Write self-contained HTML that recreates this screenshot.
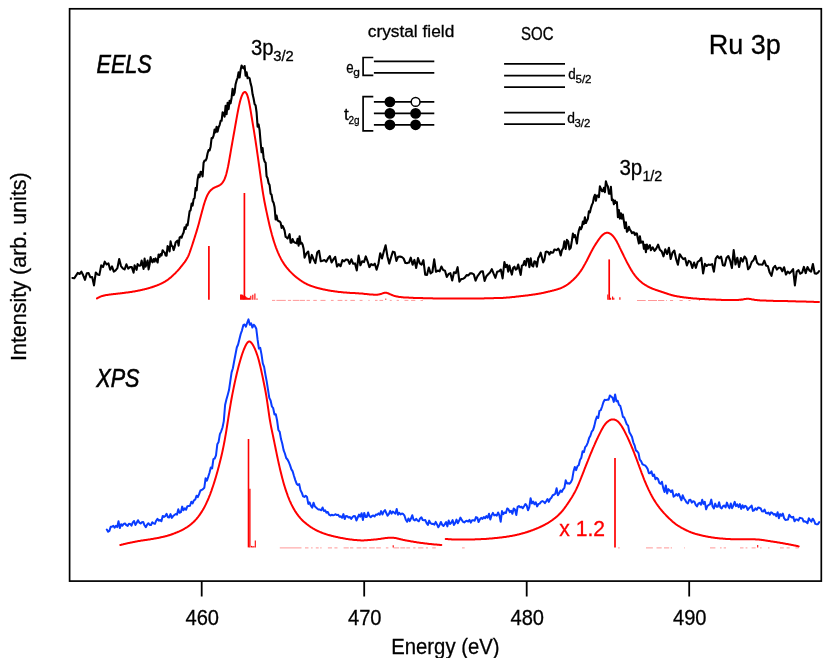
<!DOCTYPE html>
<html>
<head>
<meta charset="utf-8">
<title>Ru 3p EELS / XPS</title>
<style>
  html, body { margin: 0; padding: 0; background: #ffffff; }
  body { width: 831px; height: 658px; overflow: hidden; }
  svg { display: block; }
  text { font-family: "Liberation Sans", sans-serif; fill: #000; stroke: #000; stroke-width: 0.3px; }
  text.b { stroke-width: 0.6px; }
  svg { will-change: transform; }
</style>
</head>
<body>
<svg width="831" height="658" viewBox="0 0 831 658">
  <rect x="0" y="0" width="831" height="658" fill="#ffffff"/>

  <!-- weak multiplet lines -->
  <path d="M272.0 300.4H275.2M276.4 300.4H285.8M287.9 300.4H291.1M292.8 300.4H299.5M300.0 300.4H305.0M306.6 300.4H309.9M313.3 300.4H316.8M320.5 300.4H325.5M330.9 300.4H333.6M337.6 300.4H342.4M344.8 300.4H345.0M345.0 300.4H347.2M350.4 300.4H354.9M359.7 300.4H362.5M368.4 300.4H369.6M375.0 300.4H377.5M379.5 300.4H383.1M389.8 300.4H391.7M396.7 300.4H398.9M404.5 300.4H408.4M411.1 300.4H415.3M420.5 300.4H423.0" stroke="#ff8c8c" stroke-width="0.9" fill="none"/><path d="M637.0 300.5H645.7M648.0 300.5H657.0M658.0 300.5H664.3M666.2 300.5H667.0M670.0 300.5H673.1M679.5 300.5H682.7M688.5 300.5H690.5M698.8 300.5H700.0M740.0 300.5H742.7M754.5 300.5H755.5" stroke="#ff8c8c" stroke-width="0.9" fill="none"/><path d="M279.8 547.9H301.5M305.0 547.9H308.5M311.1 547.9H312.6M315.8 547.9H318.7M320.2 547.9H321.6M327.9 547.9H332.0M334.4 547.9H337.5M343.6 547.9H348.8M350.0 547.9H353.3M356.6 547.9H361.3M362.7 547.9H366.8M369.1 547.9H374.8M376.2 547.9H380.9M385.9 547.9H388.4M393.5 547.9H399.1M400.3 547.9H405.2M406.3 547.9H410.1M413.2 547.9H415.5M418.1 547.9H423.4M425.9 547.9H428.0M432.2 547.9H435.8" stroke="#ff8c8c" stroke-width="0.9" fill="none"/><path d="M462.0 547.9H464.7M618.0 547.9H619.8M646.0 547.9H652.9M656.5 547.9H661.7M664.0 547.9H669.2M670.7 547.9H672.0M684.0 547.9H684.8M710.0 547.9H715.4M720.0 547.9H721.6M723.7 547.9H726.0M740.0 547.9H743.5M745.6 547.9H747.4M751.6 547.9H755.6M760.1 547.9H761.6M768.0 547.9H769.5M780.0 547.9H783.8M786.6 547.9H789.7M795.4 547.9H798.6" stroke="#ff8c8c" stroke-width="0.9" fill="none"/>

  <!-- stick spectra -->
  <line x1="208.9" y1="246.0" x2="208.9" y2="299.8" stroke="#ff0000" stroke-width="1.7"/><line x1="244.4" y1="193.0" x2="244.4" y2="299.8" stroke="#ff0000" stroke-width="1.7"/><line x1="240.6" y1="294.4" x2="240.6" y2="299.8" stroke="#ff0000" stroke-width="1.1"/><line x1="241.6" y1="294.4" x2="241.6" y2="299.8" stroke="#ff0000" stroke-width="1.1"/><line x1="242.6" y1="294.8" x2="242.6" y2="299.8" stroke="#ff0000" stroke-width="1.1"/><line x1="243.4" y1="295.4" x2="243.4" y2="299.8" stroke="#ff0000" stroke-width="1.1"/><line x1="245.6" y1="296.2" x2="245.6" y2="299.8" stroke="#ff0000" stroke-width="1.1"/><line x1="246.6" y1="297.2" x2="246.6" y2="299.8" stroke="#ff0000" stroke-width="1.1"/><line x1="247.6" y1="297.8" x2="247.6" y2="299.8" stroke="#ff0000" stroke-width="1.1"/><line x1="248.6" y1="298.0" x2="248.6" y2="299.8" stroke="#ff0000" stroke-width="1.1"/><line x1="249.6" y1="297.8" x2="249.6" y2="299.8" stroke="#ff0000" stroke-width="1.1"/><line x1="250.8" y1="295.8" x2="250.8" y2="299.8" stroke="#ff0000" stroke-width="1.1"/><line x1="252.8" y1="294.8" x2="252.8" y2="299.8" stroke="#ff0000" stroke-width="1.1"/><line x1="254.9" y1="293.4" x2="254.9" y2="299.8" stroke="#ff0000" stroke-width="1.1"/><line x1="257.0" y1="298.6" x2="257.0" y2="299.8" stroke="#ff0000" stroke-width="1.1"/><line x1="609.2" y1="259.4" x2="609.2" y2="299.8" stroke="#ff0000" stroke-width="1.7"/><line x1="607.8" y1="294.6" x2="607.8" y2="299.8" stroke="#ff0000" stroke-width="1.1"/><line x1="610.6" y1="297.8" x2="610.6" y2="299.8" stroke="#ff0000" stroke-width="1.1"/><line x1="612.6" y1="296.4" x2="612.6" y2="299.8" stroke="#ff0000" stroke-width="1.1"/><line x1="613.8" y1="297.8" x2="613.8" y2="299.8" stroke="#ff0000" stroke-width="1.1"/><line x1="619.9" y1="297.2" x2="619.9" y2="299.8" stroke="#ff0000" stroke-width="1.1"/><line x1="248.5" y1="439.0" x2="248.5" y2="547.4" stroke="#ff0000" stroke-width="1.6"/><line x1="249.9" y1="488.7" x2="249.9" y2="547.4" stroke="#ff0000" stroke-width="1.3"/><line x1="255.3" y1="540.6" x2="255.3" y2="547.4" stroke="#ff0000" stroke-width="1.1"/><line x1="251.5" y1="545.9" x2="251.5" y2="547.4" stroke="#ff0000" stroke-width="1.1"/><line x1="252.7" y1="546.2" x2="252.7" y2="547.4" stroke="#ff0000" stroke-width="1.1"/><line x1="253.9" y1="545.9" x2="253.9" y2="547.4" stroke="#ff0000" stroke-width="1.1"/><line x1="615.0" y1="458.0" x2="615.0" y2="547.4" stroke="#ff0000" stroke-width="1.7"/><line x1="393.2" y1="545.2" x2="393.2" y2="547.4" stroke="#ff0000" stroke-width="1.1"/><line x1="757.7" y1="545.0" x2="757.7" y2="547.4" stroke="#ff0000" stroke-width="1.1"/><line x1="385.8" y1="298.6" x2="385.8" y2="299.8" stroke="#ff0000" stroke-width="1.0"/>

  <!-- simulated (red) spectra -->
  <g fill="none" stroke="#ff0000" stroke-width="2.0" stroke-linejoin="round" stroke-linecap="round">
    <path d="M97.0 298.4L97.5 298.1L98.0 297.8L98.5 297.6L99.0 297.3L99.5 297.1L100.0 296.8L100.5 296.6L101.0 296.4L101.5 296.2L102.0 296.1L102.5 295.9L103.0 295.8L103.5 295.7L104.0 295.5L104.5 295.4L105.0 295.3L105.5 295.2L106.0 295.1L106.5 295.1L107.0 295.0L107.5 294.9L108.0 294.8L108.5 294.7L109.0 294.7L109.5 294.6L110.0 294.5L110.5 294.5L111.0 294.4L111.5 294.3L112.0 294.3L112.5 294.2L113.0 294.2L113.5 294.1L114.0 294.1L114.5 294.0L115.0 294.0L115.5 293.9L116.0 293.8L116.5 293.8L117.0 293.7L117.5 293.7L118.0 293.6L118.5 293.6L119.0 293.5L119.5 293.5L120.0 293.4L120.5 293.3L121.0 293.3L121.5 293.2L122.0 293.2L122.5 293.1L123.0 293.0L123.5 293.0L124.0 292.9L124.5 292.8L125.0 292.8L125.5 292.7L126.0 292.6L126.5 292.6L127.0 292.5L127.5 292.5L128.0 292.4L128.5 292.3L129.0 292.2L129.5 292.2L130.0 292.1L130.5 292.0L131.0 291.9L131.5 291.9L132.0 291.8L132.5 291.7L133.0 291.6L133.5 291.5L134.0 291.5L134.5 291.4L135.0 291.3L135.5 291.2L136.0 291.1L136.5 291.0L137.0 290.9L137.5 290.8L138.0 290.7L138.5 290.6L139.0 290.5L139.5 290.4L140.0 290.3L140.5 290.2L141.0 290.1L141.5 290.0L142.0 289.9L142.5 289.7L143.0 289.6L143.5 289.5L144.0 289.4L144.5 289.3L145.0 289.1L145.5 289.0L146.0 288.9L146.5 288.8L147.0 288.6L147.5 288.5L148.0 288.4L148.5 288.2L149.0 288.1L149.5 287.9L150.0 287.8L150.5 287.6L151.0 287.5L151.5 287.3L152.0 287.2L152.5 287.0L153.0 286.8L153.5 286.7L154.0 286.5L154.5 286.3L155.0 286.1L155.5 286.0L156.0 285.8L156.5 285.6L157.0 285.4L157.5 285.2L158.0 285.0L158.5 284.8L159.0 284.6L159.5 284.4L160.0 284.1L160.5 283.9L161.0 283.7L161.5 283.4L162.0 283.2L162.5 282.9L163.0 282.7L163.5 282.4L164.0 282.1L164.5 281.8L165.0 281.6L165.5 281.3L166.0 280.9L166.5 280.6L167.0 280.3L167.5 279.9L168.0 279.6L168.5 279.2L169.0 278.8L169.5 278.4L170.0 278.0L170.5 277.6L171.0 277.2L171.5 276.7L172.0 276.3L172.5 275.8L173.0 275.4L173.5 274.9L174.0 274.4L174.5 273.9L175.0 273.5L175.5 273.0L176.0 272.4L176.5 271.9L177.0 271.4L177.5 270.9L178.0 270.3L178.5 269.7L179.0 269.2L179.5 268.6L180.0 268.0L180.5 267.4L181.0 266.7L181.5 266.1L182.0 265.5L182.5 264.9L183.0 264.2L183.5 263.6L184.0 262.9L184.5 262.3L185.0 261.6L185.5 260.9L186.0 260.1L186.5 259.3L187.0 258.5L187.5 257.6L188.0 256.6L188.5 255.5L189.0 254.3L189.5 253.0L190.0 251.6L190.5 250.2L191.0 248.7L191.5 247.2L192.0 245.7L192.5 244.2L193.0 242.6L193.5 241.1L194.0 239.5L194.5 238.0L195.0 236.4L195.5 234.8L196.0 233.2L196.5 231.6L197.0 229.9L197.5 228.2L198.0 226.5L198.5 224.7L199.0 222.9L199.5 221.0L200.0 219.1L200.5 217.2L201.0 215.3L201.5 213.4L202.0 211.5L202.5 209.7L203.0 207.9L203.5 206.1L204.0 204.4L204.5 202.8L205.0 201.2L205.5 199.8L206.0 198.4L206.5 197.1L207.0 196.0L207.5 194.9L208.0 194.0L208.5 193.2L209.0 192.4L209.5 191.7L210.0 191.1L210.5 190.5L211.0 190.0L211.5 189.6L212.0 189.2L212.5 188.8L213.0 188.4L213.5 188.1L214.0 187.8L214.5 187.6L215.0 187.3L215.5 187.1L216.0 186.9L216.5 186.7L217.0 186.5L217.5 186.3L218.0 186.1L218.5 185.8L219.0 185.6L219.5 185.3L220.0 185.0L220.5 184.6L221.0 184.2L221.5 183.7L222.0 183.2L222.5 182.6L223.0 181.9L223.5 181.1L224.0 180.2L224.5 179.2L225.0 178.0L225.5 176.6L226.0 175.1L226.5 173.3L227.0 171.3L227.5 169.1L228.0 166.8L228.5 164.2L229.0 161.5L229.5 158.6L230.0 155.8L230.5 152.8L231.0 149.9L231.5 147.0L232.0 144.2L232.5 141.4L233.0 138.6L233.5 135.8L234.0 133.0L234.5 130.2L235.0 127.3L235.5 124.5L236.0 121.7L236.5 118.9L237.0 116.1L237.5 113.4L238.0 110.8L238.5 108.3L239.0 105.9L239.5 103.7L240.0 101.6L240.5 99.8L241.0 98.1L241.5 96.7L242.0 95.4L242.5 94.3L243.0 93.4L243.5 92.7L244.0 92.3L244.5 92.0L245.0 92.0L245.5 92.2L246.0 92.7L246.5 93.5L247.0 94.5L247.5 95.9L248.0 97.5L248.5 99.5L249.0 101.8L249.5 104.3L250.0 107.0L250.5 109.9L251.0 112.9L251.5 116.0L252.0 119.0L252.5 122.1L253.0 125.1L253.5 128.2L254.0 131.2L254.5 134.3L255.0 137.5L255.5 140.7L256.0 144.0L256.5 147.4L257.0 150.8L257.5 154.3L258.0 157.8L258.5 161.4L259.0 165.0L259.5 168.6L260.0 172.3L260.5 175.9L261.0 179.6L261.5 183.1L262.0 186.6L262.5 190.0L263.0 193.2L263.5 196.2L264.0 199.0L264.5 201.7L265.0 204.3L265.5 206.8L266.0 209.2L266.5 211.6L267.0 213.9L267.5 216.3L268.0 218.5L268.5 220.8L269.0 223.0L269.5 225.2L270.0 227.3L270.5 229.3L271.0 231.2L271.5 233.1L272.0 235.0L272.5 236.7L273.0 238.4L273.5 240.1L274.0 241.7L274.5 243.3L275.0 244.8L275.5 246.2L276.0 247.6L276.5 248.9L277.0 250.2L277.5 251.4L278.0 252.6L278.5 253.7L279.0 254.8L279.5 255.9L280.0 256.9L280.5 257.9L281.0 258.9L281.5 259.8L282.0 260.7L282.5 261.5L283.0 262.3L283.5 263.1L284.0 263.9L284.5 264.6L285.0 265.3L285.5 266.0L286.0 266.6L286.5 267.3L287.0 267.9L287.5 268.5L288.0 269.1L288.5 269.7L289.0 270.3L289.5 270.8L290.0 271.4L290.5 271.9L291.0 272.4L291.5 272.9L292.0 273.4L292.5 273.9L293.0 274.4L293.5 274.8L294.0 275.3L294.5 275.7L295.0 276.1L295.5 276.6L296.0 277.0L296.5 277.4L297.0 277.8L297.5 278.2L298.0 278.5L298.5 278.9L299.0 279.3L299.5 279.7L300.0 280.0L300.5 280.4L301.0 280.7L301.5 281.0L302.0 281.4L302.5 281.7L303.0 282.0L303.5 282.3L304.0 282.6L304.5 282.9L305.0 283.2L305.5 283.4L306.0 283.7L306.5 284.0L307.0 284.2L307.5 284.4L308.0 284.7L308.5 284.9L309.0 285.1L309.5 285.3L310.0 285.5L310.5 285.7L311.0 285.9L311.5 286.1L312.0 286.2L312.5 286.4L313.0 286.6L313.5 286.7L314.0 286.9L314.5 287.1L315.0 287.2L315.5 287.4L316.0 287.5L316.5 287.7L317.0 287.8L317.5 287.9L318.0 288.1L318.5 288.2L319.0 288.3L319.5 288.5L320.0 288.6L320.5 288.7L321.0 288.8L321.5 289.0L322.0 289.1L322.5 289.2L323.0 289.3L323.5 289.4L324.0 289.5L324.5 289.6L325.0 289.7L325.5 289.8L326.0 289.9L326.5 290.0L327.0 290.1L327.5 290.2L328.0 290.3L328.5 290.4L329.0 290.5L329.5 290.6L330.0 290.7L330.5 290.8L331.0 290.8L331.5 290.9L332.0 291.0L332.5 291.1L333.0 291.1L333.5 291.2L334.0 291.3L334.5 291.3L335.0 291.4L335.5 291.5L336.0 291.5L336.5 291.6L337.0 291.7L337.5 291.7L338.0 291.8L338.5 291.9L339.0 291.9L339.5 292.0L340.0 292.0L340.5 292.1L341.0 292.1L341.5 292.2L342.0 292.2L342.5 292.3L343.0 292.3L343.5 292.4L344.0 292.4L344.5 292.5L345.0 292.5L345.5 292.6L346.0 292.6L346.5 292.6L347.0 292.7L347.5 292.7L348.0 292.7L348.5 292.8L349.0 292.8L349.5 292.8L350.0 292.9L350.5 292.9L351.0 292.9L351.5 292.9L352.0 293.0L352.5 293.0L353.0 293.0L353.5 293.1L354.0 293.1L354.5 293.1L355.0 293.1L355.5 293.2L356.0 293.2L356.5 293.2L357.0 293.2L357.5 293.3L358.0 293.3L358.5 293.3L359.0 293.4L359.5 293.4L360.0 293.4L360.5 293.5L361.0 293.5L361.5 293.6L362.0 293.6L362.5 293.6L363.0 293.7L363.5 293.7L364.0 293.8L364.5 293.9L365.0 293.9L365.5 294.0L366.0 294.0L366.5 294.1L367.0 294.1L367.5 294.2L368.0 294.2L368.5 294.3L369.0 294.3L369.5 294.4L370.0 294.4L370.5 294.5L371.0 294.5L371.5 294.6L372.0 294.6L372.5 294.6L373.0 294.6L373.5 294.7L374.0 294.7L374.5 294.7L375.0 294.7L375.5 294.7L376.0 294.7L376.5 294.7L377.0 294.7L377.5 294.7L378.0 294.6L378.5 294.5L379.0 294.4L379.5 294.3L380.0 294.2L380.5 294.1L381.0 293.9L381.5 293.8L382.0 293.6L382.5 293.4L383.0 293.2L383.5 293.1L384.0 292.9L384.5 292.8L385.0 292.7L385.5 292.7L386.0 292.7L386.5 292.8L387.0 292.9L387.5 293.1L388.0 293.3L388.5 293.5L389.0 293.7L389.5 293.9L390.0 294.2L390.5 294.4L391.0 294.6L391.5 294.8L392.0 295.0L392.5 295.2L393.0 295.4L393.5 295.6L394.0 295.8L394.5 295.9L395.0 296.1L395.5 296.2L396.0 296.3L396.5 296.4L397.0 296.5L397.5 296.6L398.0 296.7L398.5 296.8L399.0 296.9L399.5 296.9L400.0 297.0L400.5 297.1L401.0 297.1L401.5 297.2L402.0 297.2L402.5 297.3L403.0 297.3L403.5 297.4L404.0 297.4L404.5 297.4L405.0 297.5L405.5 297.5L406.0 297.5L406.5 297.5L407.0 297.6L407.5 297.6L408.0 297.6L408.5 297.6L409.0 297.7L409.5 297.7L410.0 297.7L410.5 297.7L411.0 297.8L411.5 297.8L412.0 297.8L412.5 297.8L413.0 297.8L413.5 297.9L414.0 297.9L414.5 297.9L415.0 297.9L415.5 297.9L416.0 298.0L416.5 298.0L417.0 298.0L417.5 298.0L418.0 298.0L418.5 298.0L419.0 298.1L419.5 298.1L420.0 298.1L420.5 298.1L421.0 298.1L421.5 298.1L422.0 298.1L422.5 298.1L423.0 298.2L423.5 298.2L424.0 298.2L424.5 298.2L425.0 298.2L425.5 298.2L426.0 298.2L426.5 298.2L427.0 298.2L427.5 298.3L428.0 298.3L428.5 298.3L429.0 298.3L429.5 298.3L430.0 298.3L430.5 298.3L431.0 298.3L431.5 298.3L432.0 298.3L432.5 298.3L433.0 298.4L433.5 298.4L434.0 298.4L434.5 298.4L435.0 298.4L435.5 298.4L436.0 298.4L436.5 298.4L437.0 298.4L437.5 298.4L438.0 298.4L438.5 298.4L439.0 298.4L439.5 298.5L440.0 298.5L440.5 298.5L441.0 298.5L441.5 298.5L442.0 298.5L442.5 298.5L443.0 298.5L443.5 298.5L444.0 298.5L444.5 298.5L445.0 298.5L445.5 298.5L446.0 298.5L446.5 298.5L447.0 298.5L447.5 298.6L448.0 298.6L448.5 298.6L449.0 298.6L449.5 298.6L450.0 298.6L450.5 298.6L451.0 298.6L451.5 298.6L452.0 298.6L452.5 298.6L453.0 298.6L453.5 298.6L454.0 298.6L454.5 298.6L455.0 298.6L455.5 298.6L456.0 298.6L456.5 298.6L457.0 298.6L457.5 298.6L458.0 298.6L458.5 298.6L459.0 298.6L459.5 298.6L460.0 298.6L460.5 298.6L461.0 298.6L461.5 298.6L462.0 298.6L462.5 298.6L463.0 298.6L463.5 298.6L464.0 298.6L464.5 298.6L465.0 298.6L465.5 298.6L466.0 298.6L466.5 298.6L467.0 298.6L467.5 298.6L468.0 298.6L468.5 298.6L469.0 298.5L469.5 298.5L470.0 298.5L470.5 298.5L471.0 298.5L471.5 298.5L472.0 298.5L472.5 298.5L473.0 298.5L473.5 298.5L474.0 298.5L474.5 298.5L475.0 298.5L475.5 298.5L476.0 298.5L476.5 298.5L477.0 298.5L477.5 298.5L478.0 298.4L478.5 298.4L479.0 298.4L479.5 298.4L480.0 298.4L480.5 298.4L481.0 298.4L481.5 298.4L482.0 298.4L482.5 298.4L483.0 298.4L483.5 298.4L484.0 298.4L484.5 298.3L485.0 298.3L485.5 298.3L486.0 298.3L486.5 298.3L487.0 298.3L487.5 298.3L488.0 298.3L488.5 298.3L489.0 298.3L489.5 298.2L490.0 298.2L490.5 298.2L491.0 298.2L491.5 298.2L492.0 298.2L492.5 298.2L493.0 298.2L493.5 298.2L494.0 298.1L494.5 298.1L495.0 298.1L495.5 298.1L496.0 298.1L496.5 298.1L497.0 298.1L497.5 298.1L498.0 298.1L498.5 298.0L499.0 298.0L499.5 298.0L500.0 298.0L500.5 298.0L501.0 298.0L501.5 297.9L502.0 297.9L502.5 297.9L503.0 297.9L503.5 297.8L504.0 297.8L504.5 297.8L505.0 297.7L505.5 297.7L506.0 297.7L506.5 297.6L507.0 297.6L507.5 297.6L508.0 297.5L508.5 297.5L509.0 297.4L509.5 297.4L510.0 297.3L510.5 297.3L511.0 297.2L511.5 297.2L512.0 297.1L512.5 297.1L513.0 297.0L513.5 297.0L514.0 296.9L514.5 296.9L515.0 296.8L515.5 296.7L516.0 296.7L516.5 296.6L517.0 296.6L517.5 296.5L518.0 296.5L518.5 296.4L519.0 296.3L519.5 296.3L520.0 296.2L520.5 296.2L521.0 296.1L521.5 296.1L522.0 296.0L522.5 295.9L523.0 295.9L523.5 295.8L524.0 295.8L524.5 295.7L525.0 295.7L525.5 295.6L526.0 295.5L526.5 295.5L527.0 295.4L527.5 295.4L528.0 295.3L528.5 295.2L529.0 295.2L529.5 295.1L530.0 295.0L530.5 295.0L531.0 294.9L531.5 294.8L532.0 294.8L532.5 294.7L533.0 294.6L533.5 294.5L534.0 294.5L534.5 294.4L535.0 294.3L535.5 294.2L536.0 294.2L536.5 294.1L537.0 294.0L537.5 293.9L538.0 293.8L538.5 293.8L539.0 293.7L539.5 293.6L540.0 293.5L540.5 293.4L541.0 293.3L541.5 293.2L542.0 293.1L542.5 293.0L543.0 292.9L543.5 292.8L544.0 292.7L544.5 292.6L545.0 292.5L545.5 292.3L546.0 292.2L546.5 292.1L547.0 292.0L547.5 291.9L548.0 291.7L548.5 291.6L549.0 291.5L549.5 291.4L550.0 291.3L550.5 291.1L551.0 291.0L551.5 290.9L552.0 290.8L552.5 290.6L553.0 290.5L553.5 290.4L554.0 290.3L554.5 290.1L555.0 290.0L555.5 289.9L556.0 289.7L556.5 289.6L557.0 289.4L557.5 289.3L558.0 289.1L558.5 289.0L559.0 288.8L559.5 288.6L560.0 288.4L560.5 288.3L561.0 288.1L561.5 287.8L562.0 287.6L562.5 287.4L563.0 287.1L563.5 286.9L564.0 286.6L564.5 286.3L565.0 286.1L565.5 285.8L566.0 285.5L566.5 285.1L567.0 284.8L567.5 284.5L568.0 284.1L568.5 283.8L569.0 283.4L569.5 283.0L570.0 282.6L570.5 282.2L571.0 281.8L571.5 281.3L572.0 280.9L572.5 280.4L573.0 280.0L573.5 279.5L574.0 279.0L574.5 278.5L575.0 278.0L575.5 277.5L576.0 277.0L576.5 276.4L577.0 275.8L577.5 275.3L578.0 274.7L578.5 274.0L579.0 273.4L579.5 272.7L580.0 272.0L580.5 271.3L581.0 270.6L581.5 269.8L582.0 269.1L582.5 268.3L583.0 267.4L583.5 266.6L584.0 265.7L584.5 264.8L585.0 264.0L585.5 263.1L586.0 262.1L586.5 261.2L587.0 260.2L587.5 259.2L588.0 258.2L588.5 257.2L589.0 256.2L589.5 255.2L590.0 254.2L590.5 253.2L591.0 252.3L591.5 251.3L592.0 250.4L592.5 249.5L593.0 248.6L593.5 247.7L594.0 246.8L594.5 246.0L595.0 245.2L595.5 244.4L596.0 243.6L596.5 242.8L597.0 242.1L597.5 241.3L598.0 240.6L598.5 239.9L599.0 239.2L599.5 238.5L600.0 237.8L600.5 237.2L601.0 236.6L601.5 236.0L602.0 235.5L602.5 235.0L603.0 234.6L603.5 234.2L604.0 233.8L604.5 233.5L605.0 233.3L605.5 233.1L606.0 232.9L606.5 232.8L607.0 232.7L607.5 232.7L608.0 232.8L608.5 232.9L609.0 233.1L609.5 233.3L610.0 233.6L610.5 233.9L611.0 234.2L611.5 234.6L612.0 235.1L612.5 235.5L613.0 236.1L613.5 236.7L614.0 237.3L614.5 238.0L615.0 238.7L615.5 239.5L616.0 240.3L616.5 241.1L617.0 242.0L617.5 243.0L618.0 243.9L618.5 244.9L619.0 246.0L619.5 247.0L620.0 248.1L620.5 249.1L621.0 250.2L621.5 251.2L622.0 252.3L622.5 253.3L623.0 254.3L623.5 255.3L624.0 256.4L624.5 257.4L625.0 258.4L625.5 259.4L626.0 260.4L626.5 261.4L627.0 262.3L627.5 263.3L628.0 264.2L628.5 265.1L629.0 266.0L629.5 266.9L630.0 267.8L630.5 268.7L631.0 269.6L631.5 270.4L632.0 271.2L632.5 272.0L633.0 272.8L633.5 273.5L634.0 274.2L634.5 274.9L635.0 275.6L635.5 276.2L636.0 276.8L636.5 277.4L637.0 278.0L637.5 278.5L638.0 279.0L638.5 279.6L639.0 280.1L639.5 280.5L640.0 281.0L640.5 281.4L641.0 281.9L641.5 282.3L642.0 282.7L642.5 283.1L643.0 283.5L643.5 283.8L644.0 284.2L644.5 284.5L645.0 284.8L645.5 285.1L646.0 285.4L646.5 285.7L647.0 286.0L647.5 286.3L648.0 286.6L648.5 286.8L649.0 287.1L649.5 287.3L650.0 287.6L650.5 287.8L651.0 288.0L651.5 288.2L652.0 288.5L652.5 288.7L653.0 288.9L653.5 289.1L654.0 289.2L654.5 289.4L655.0 289.6L655.5 289.8L656.0 290.0L656.5 290.1L657.0 290.3L657.5 290.5L658.0 290.6L658.5 290.8L659.0 291.0L659.5 291.1L660.0 291.3L660.5 291.5L661.0 291.6L661.5 291.8L662.0 292.0L662.5 292.1L663.0 292.3L663.5 292.5L664.0 292.6L664.5 292.8L665.0 293.0L665.5 293.1L666.0 293.3L666.5 293.5L667.0 293.6L667.5 293.8L668.0 294.0L668.5 294.1L669.0 294.3L669.5 294.4L670.0 294.6L670.5 294.7L671.0 294.9L671.5 295.0L672.0 295.2L672.5 295.3L673.0 295.4L673.5 295.5L674.0 295.7L674.5 295.8L675.0 295.9L675.5 296.0L676.0 296.1L676.5 296.2L677.0 296.3L677.5 296.4L678.0 296.5L678.5 296.6L679.0 296.6L679.5 296.7L680.0 296.8L680.5 296.9L681.0 296.9L681.5 297.0L682.0 297.1L682.5 297.2L683.0 297.2L683.5 297.3L684.0 297.4L684.5 297.4L685.0 297.5L685.5 297.5L686.0 297.6L686.5 297.7L687.0 297.7L687.5 297.8L688.0 297.8L688.5 297.9L689.0 298.0L689.5 298.0L690.0 298.1L690.5 298.1L691.0 298.2L691.5 298.2L692.0 298.3L692.5 298.3L693.0 298.4L693.5 298.4L694.0 298.4L694.5 298.5L695.0 298.5L695.5 298.6L696.0 298.6L696.5 298.6L697.0 298.7L697.5 298.7L698.0 298.8L698.5 298.8L699.0 298.8L699.5 298.9L700.0 298.9L700.5 298.9L701.0 298.9L701.5 299.0L702.0 299.0L702.5 299.0L703.0 299.1L703.5 299.1L704.0 299.1L704.5 299.1L705.0 299.2L705.5 299.2L706.0 299.2L706.5 299.2L707.0 299.3L707.5 299.3L708.0 299.3L708.5 299.3L709.0 299.4L709.5 299.4L710.0 299.4L710.5 299.4L711.0 299.4L711.5 299.5L712.0 299.5L712.5 299.5L713.0 299.5L713.5 299.6L714.0 299.6L714.5 299.6L715.0 299.6L715.5 299.6L716.0 299.7L716.5 299.7L717.0 299.7L717.5 299.7L718.0 299.7L718.5 299.8L719.0 299.8L719.5 299.8L720.0 299.8L720.5 299.8L721.0 299.8L721.5 299.9L722.0 299.9L722.5 299.9L723.0 299.9L723.5 299.9L724.0 299.9L724.5 300.0L725.0 300.0L725.5 300.0L726.0 300.0L726.5 300.0L727.0 300.0L727.5 300.0L728.0 300.0L728.5 300.0L729.0 300.0L729.5 300.1L730.0 300.1L730.5 300.1L731.0 300.1L731.5 300.1L732.0 300.1L732.5 300.1L733.0 300.1L733.5 300.1L734.0 300.1L734.5 300.1L735.0 300.1L735.5 300.1L736.0 300.1L736.5 300.0L737.0 300.0L737.5 300.0L738.0 299.9L738.5 299.9L739.0 299.8L739.5 299.8L740.0 299.7L740.5 299.7L741.0 299.6L741.5 299.6L742.0 299.5L742.5 299.4L743.0 299.4L743.5 299.3L744.0 299.2L744.5 299.1L745.0 299.0L745.5 299.0L746.0 298.9L746.5 298.8L747.0 298.8L747.5 298.8L748.0 298.7L748.5 298.8L749.0 298.8L749.5 298.9L750.0 299.0L750.5 299.0L751.0 299.1L751.5 299.3L752.0 299.4L752.5 299.5L753.0 299.6L753.5 299.6L754.0 299.7L754.5 299.8L755.0 299.9L755.5 299.9L756.0 300.0L756.5 300.1L757.0 300.1L757.5 300.2L758.0 300.2L758.5 300.3L759.0 300.3L759.5 300.3L760.0 300.4L760.5 300.4L761.0 300.4L761.5 300.5L762.0 300.5L762.5 300.5L763.0 300.5L763.5 300.6L764.0 300.6L764.5 300.6L765.0 300.6L765.5 300.6L766.0 300.6L766.5 300.7L767.0 300.7L767.5 300.7L768.0 300.7L768.5 300.7L769.0 300.7L769.5 300.8L770.0 300.8L770.5 300.8L771.0 300.8L771.5 300.8L772.0 300.8L772.5 300.8L773.0 300.8L773.5 300.9L774.0 300.9L774.5 300.9L775.0 300.9L775.5 300.9L776.0 300.9L776.5 300.9L777.0 300.9L777.5 300.9L778.0 300.9L778.5 301.0L779.0 301.0L779.5 301.0L780.0 301.0L780.5 301.0L781.0 301.0L781.5 301.0L782.0 301.0L782.5 301.0L783.0 301.0L783.5 301.1L784.0 301.1L784.5 301.1L785.0 301.1L785.5 301.1L786.0 301.1L786.5 301.1L787.0 301.1L787.5 301.1L788.0 301.2L788.5 301.2L789.0 301.2L789.5 301.2L790.0 301.2L790.5 301.2L791.0 301.2L791.5 301.2L792.0 301.3L792.5 301.3L793.0 301.3L793.5 301.3L794.0 301.3L794.5 301.3L795.0 301.3L795.5 301.3L796.0 301.4L796.5 301.4L797.0 301.4L797.5 301.4L798.0 301.4L798.5 301.4L799.0 301.4L799.5 301.5L800.0 301.5L800.5 301.5L801.0 301.5L801.5 301.5L802.0 301.5L802.5 301.5L803.0 301.6L803.5 301.6L804.0 301.6L804.5 301.6L805.0 301.6L805.5 301.6L806.0 301.6L806.5 301.7L807.0 301.7L807.5 301.7L808.0 301.7L808.5 301.7L809.0 301.7L809.5 301.7L810.0 301.7L810.5 301.8L811.0 301.8L811.5 301.8L812.0 301.8L812.5 301.8L813.0 301.8L813.5 301.8L814.0 301.9L814.5 301.9L815.0 301.9L815.5 301.9L816.0 301.9L816.5 301.9L817.0 301.9L817.5 302.0L818.0 302.0L818.5 302.0L819.0 302.0"/>
    <path d="M120.3 545.0L120.8 544.9L121.3 544.8L121.8 544.6L122.3 544.5L122.8 544.4L123.3 544.3L123.8 544.1L124.3 544.0L124.8 543.9L125.3 543.8L125.8 543.7L126.3 543.6L126.8 543.4L127.3 543.3L127.8 543.2L128.3 543.1L128.8 543.0L129.3 542.9L129.8 542.8L130.3 542.7L130.8 542.6L131.3 542.5L131.8 542.4L132.3 542.3L132.8 542.2L133.3 542.1L133.8 542.0L134.3 541.9L134.8 541.8L135.3 541.7L135.8 541.6L136.3 541.5L136.8 541.4L137.3 541.3L137.8 541.2L138.3 541.1L138.8 541.0L139.3 540.9L139.8 540.9L140.3 540.8L140.8 540.7L141.3 540.6L141.8 540.5L142.3 540.5L142.8 540.4L143.3 540.3L143.8 540.2L144.3 540.2L144.8 540.1L145.3 540.0L145.8 540.0L146.3 539.9L146.8 539.8L147.3 539.8L147.8 539.7L148.3 539.6L148.8 539.5L149.3 539.5L149.8 539.4L150.3 539.3L150.8 539.2L151.3 539.1L151.8 539.1L152.3 539.0L152.8 538.9L153.3 538.8L153.8 538.7L154.3 538.6L154.8 538.5L155.3 538.4L155.8 538.3L156.3 538.3L156.8 538.2L157.3 538.1L157.8 538.0L158.3 537.9L158.8 537.8L159.3 537.7L159.8 537.6L160.3 537.5L160.8 537.3L161.3 537.2L161.8 537.1L162.3 537.0L162.8 536.9L163.3 536.8L163.8 536.7L164.3 536.5L164.8 536.4L165.3 536.3L165.8 536.2L166.3 536.0L166.8 535.9L167.3 535.8L167.8 535.6L168.3 535.5L168.8 535.3L169.3 535.2L169.8 535.0L170.3 534.9L170.8 534.7L171.3 534.5L171.8 534.3L172.3 534.2L172.8 534.0L173.3 533.8L173.8 533.6L174.3 533.4L174.8 533.2L175.3 533.0L175.8 532.8L176.3 532.6L176.8 532.4L177.3 532.2L177.8 532.0L178.3 531.8L178.8 531.6L179.3 531.4L179.8 531.1L180.3 530.9L180.8 530.7L181.3 530.4L181.8 530.2L182.3 529.9L182.8 529.7L183.3 529.4L183.8 529.1L184.3 528.8L184.8 528.5L185.3 528.2L185.8 527.9L186.3 527.6L186.8 527.3L187.3 527.0L187.8 526.6L188.3 526.3L188.8 525.9L189.3 525.6L189.8 525.2L190.3 524.8L190.8 524.4L191.3 524.0L191.8 523.5L192.3 523.1L192.8 522.6L193.3 522.2L193.8 521.7L194.3 521.2L194.8 520.7L195.3 520.2L195.8 519.6L196.3 519.1L196.8 518.5L197.3 517.9L197.8 517.3L198.3 516.7L198.8 516.0L199.3 515.3L199.8 514.6L200.3 513.9L200.8 513.2L201.3 512.4L201.8 511.6L202.3 510.8L202.8 510.0L203.3 509.1L203.8 508.3L204.3 507.3L204.8 506.4L205.3 505.4L205.8 504.4L206.3 503.3L206.8 502.2L207.3 501.1L207.8 500.0L208.3 498.8L208.8 497.6L209.3 496.3L209.8 495.1L210.3 493.8L210.8 492.4L211.3 491.1L211.8 489.6L212.3 488.2L212.8 486.7L213.3 485.2L213.8 483.7L214.3 482.1L214.8 480.5L215.3 478.9L215.8 477.2L216.3 475.5L216.8 473.8L217.3 472.0L217.8 470.2L218.3 468.3L218.8 466.5L219.3 464.6L219.8 462.6L220.3 460.6L220.8 458.6L221.3 456.5L221.8 454.3L222.3 452.1L222.8 449.8L223.3 447.4L223.8 444.9L224.3 442.3L224.8 439.6L225.3 436.7L225.8 433.8L226.3 430.8L226.8 427.7L227.3 424.5L227.8 421.3L228.3 418.1L228.8 415.0L229.3 411.8L229.8 408.8L230.3 405.8L230.8 402.9L231.3 400.0L231.8 397.3L232.3 394.6L232.8 392.1L233.3 389.6L233.8 387.1L234.3 384.8L234.8 382.4L235.3 380.1L235.8 377.9L236.3 375.7L236.8 373.6L237.3 371.5L237.8 369.5L238.3 367.5L238.8 365.6L239.3 363.7L239.8 361.9L240.3 360.2L240.8 358.5L241.3 356.9L241.8 355.3L242.3 353.8L242.8 352.4L243.3 351.0L243.8 349.7L244.3 348.5L244.8 347.3L245.3 346.2L245.8 345.2L246.3 344.3L246.8 343.5L247.3 342.8L247.8 342.3L248.3 341.9L248.8 341.6L249.3 341.5L249.8 341.6L250.3 341.8L250.8 342.2L251.3 342.7L251.8 343.3L252.3 344.0L252.8 344.8L253.3 345.6L253.8 346.6L254.3 347.6L254.8 348.7L255.3 349.9L255.8 351.1L256.3 352.4L256.8 353.8L257.3 355.3L257.8 356.8L258.3 358.5L258.8 360.3L259.3 362.2L259.8 364.2L260.3 366.3L260.8 368.5L261.3 370.7L261.8 373.1L262.3 375.4L262.8 377.8L263.3 380.3L263.8 382.7L264.3 385.2L264.8 387.7L265.3 390.3L265.8 393.0L266.3 395.9L266.8 399.0L267.3 402.4L267.8 405.9L268.3 409.4L268.8 412.9L269.3 416.3L269.8 419.5L270.3 422.4L270.8 425.1L271.3 427.7L271.8 430.1L272.3 432.5L272.8 434.9L273.3 437.3L273.8 439.7L274.3 442.1L274.8 444.6L275.3 447.0L275.8 449.5L276.3 451.9L276.8 454.4L277.3 456.7L277.8 459.1L278.3 461.4L278.8 463.7L279.3 465.9L279.8 468.1L280.3 470.2L280.8 472.3L281.3 474.3L281.8 476.3L282.3 478.2L282.8 480.1L283.3 481.9L283.8 483.7L284.3 485.4L284.8 487.0L285.3 488.6L285.8 490.1L286.3 491.6L286.8 493.0L287.3 494.4L287.8 495.8L288.3 497.1L288.8 498.3L289.3 499.6L289.8 500.8L290.3 501.9L290.8 503.0L291.3 504.1L291.8 505.1L292.3 506.1L292.8 507.1L293.3 508.0L293.8 508.9L294.3 509.7L294.8 510.6L295.3 511.4L295.8 512.1L296.3 512.9L296.8 513.6L297.3 514.3L297.8 515.0L298.3 515.6L298.8 516.3L299.3 516.9L299.8 517.5L300.3 518.1L300.8 518.6L301.3 519.2L301.8 519.7L302.3 520.2L302.8 520.7L303.3 521.2L303.8 521.6L304.3 522.1L304.8 522.5L305.3 522.9L305.8 523.3L306.3 523.8L306.8 524.2L307.3 524.5L307.8 524.9L308.3 525.3L308.8 525.7L309.3 526.0L309.8 526.4L310.3 526.7L310.8 527.1L311.3 527.4L311.8 527.7L312.3 528.0L312.8 528.4L313.3 528.6L313.8 528.9L314.3 529.2L314.8 529.5L315.3 529.8L315.8 530.0L316.3 530.3L316.8 530.5L317.3 530.8L317.8 531.0L318.3 531.2L318.8 531.4L319.3 531.7L319.8 531.9L320.3 532.1L320.8 532.3L321.3 532.5L321.8 532.7L322.3 532.9L322.8 533.1L323.3 533.3L323.8 533.4L324.3 533.6L324.8 533.8L325.3 534.0L325.8 534.1L326.3 534.3L326.8 534.4L327.3 534.6L327.8 534.8L328.3 534.9L328.8 535.0L329.3 535.2L329.8 535.3L330.3 535.5L330.8 535.6L331.3 535.7L331.8 535.9L332.3 536.0L332.8 536.1L333.3 536.2L333.8 536.4L334.3 536.5L334.8 536.6L335.3 536.7L335.8 536.8L336.3 536.9L336.8 537.0L337.3 537.1L337.8 537.2L338.3 537.4L338.8 537.5L339.3 537.6L339.8 537.7L340.3 537.8L340.8 537.9L341.3 538.0L341.8 538.0L342.3 538.1L342.8 538.2L343.3 538.3L343.8 538.4L344.3 538.5L344.8 538.6L345.3 538.7L345.8 538.8L346.3 538.9L346.8 539.0L347.3 539.0L347.8 539.1L348.3 539.2L348.8 539.3L349.3 539.3L349.8 539.4L350.3 539.5L350.8 539.5L351.3 539.6L351.8 539.6L352.3 539.7L352.8 539.8L353.3 539.8L353.8 539.9L354.3 539.9L354.8 540.0L355.3 540.0L355.8 540.0L356.3 540.1L356.8 540.1L357.3 540.2L357.8 540.2L358.3 540.2L358.8 540.3L359.3 540.3L359.8 540.3L360.3 540.3L360.8 540.4L361.3 540.4L361.8 540.4L362.3 540.4L362.8 540.4L363.3 540.4L363.8 540.4L364.3 540.3L364.8 540.3L365.3 540.3L365.8 540.3L366.3 540.2L366.8 540.2L367.3 540.2L367.8 540.1L368.3 540.1L368.8 540.1L369.3 540.0L369.8 540.0L370.3 539.9L370.8 539.9L371.3 539.8L371.8 539.8L372.3 539.7L372.8 539.7L373.3 539.7L373.8 539.6L374.3 539.6L374.8 539.5L375.3 539.5L375.8 539.4L376.3 539.4L376.8 539.3L377.3 539.3L377.8 539.2L378.3 539.1L378.8 539.1L379.3 539.0L379.8 538.9L380.3 538.9L380.8 538.8L381.3 538.7L381.8 538.6L382.3 538.6L382.8 538.5L383.3 538.4L383.8 538.3L384.3 538.3L384.8 538.2L385.3 538.1L385.8 538.1L386.3 538.0L386.8 537.9L387.3 537.9L387.8 537.8L388.3 537.8L388.8 537.7L389.3 537.7L389.8 537.7L390.3 537.7L390.8 537.7L391.3 537.7L391.8 537.7L392.3 537.7L392.8 537.7L393.3 537.8L393.8 537.8L394.3 537.9L394.8 537.9L395.3 538.0L395.8 538.1L396.3 538.2L396.8 538.3L397.3 538.4L397.8 538.5L398.3 538.7L398.8 538.8L399.3 538.9L399.8 539.0L400.3 539.2L400.8 539.3L401.3 539.4L401.8 539.5L402.3 539.6L402.8 539.8L403.3 539.9L403.8 540.0L404.3 540.1L404.8 540.2L405.3 540.3L405.8 540.4L406.3 540.5L406.8 540.6L407.3 540.7L407.8 540.7L408.3 540.8L408.8 540.9L409.3 541.0L409.8 541.1L410.3 541.2L410.8 541.3L411.3 541.4L411.8 541.5L412.3 541.6L412.8 541.6L413.3 541.7L413.8 541.8L414.3 541.9L414.8 542.0L415.3 542.1L415.8 542.1L416.3 542.2L416.8 542.3L417.3 542.4L417.8 542.5L418.3 542.5L418.8 542.6L419.3 542.7L419.8 542.8L420.3 542.8L420.8 542.9L421.3 543.0L421.8 543.0L422.3 543.1L422.8 543.1L423.3 543.2L423.8 543.3L424.3 543.3L424.8 543.4L425.3 543.5L425.8 543.5L426.3 543.6L426.8 543.6L427.3 543.7L427.8 543.7L428.3 543.8L428.8 543.9L429.3 543.9L429.8 544.0L430.3 544.0L430.8 544.1L431.3 544.1L431.8 544.2L432.3 544.2L432.8 544.3L433.3 544.3L433.8 544.4L434.3 544.4L434.8 544.5L435.3 544.5L435.8 544.6L436.3 544.6L436.8 544.6L437.3 544.7L437.8 544.7L438.3 544.8L438.8 544.8L439.3 544.8L439.8 544.9L440.3 544.9L440.8 544.9L441.3 545.0"/>
    <path d="M445.7 539.0L446.2 539.0L446.7 539.1L447.2 539.1L447.7 539.1L448.2 539.2L448.7 539.2L449.2 539.2L449.7 539.3L450.2 539.3L450.7 539.3L451.2 539.3L451.7 539.4L452.2 539.4L452.7 539.4L453.2 539.4L453.7 539.5L454.2 539.5L454.7 539.5L455.2 539.5L455.7 539.5L456.2 539.5L456.7 539.6L457.2 539.6L457.7 539.6L458.2 539.6L458.7 539.6L459.2 539.6L459.7 539.6L460.2 539.6L460.7 539.6L461.2 539.6L461.7 539.6L462.2 539.6L462.7 539.6L463.2 539.6L463.7 539.6L464.2 539.6L464.7 539.6L465.2 539.6L465.7 539.6L466.2 539.5L466.7 539.5L467.2 539.5L467.7 539.5L468.2 539.5L468.7 539.5L469.2 539.5L469.7 539.5L470.2 539.5L470.7 539.5L471.2 539.5L471.7 539.4L472.2 539.4L472.7 539.4L473.2 539.4L473.7 539.4L474.2 539.4L474.7 539.4L475.2 539.3L475.7 539.3L476.2 539.3L476.7 539.3L477.2 539.3L477.7 539.3L478.2 539.3L478.7 539.2L479.2 539.2L479.7 539.2L480.2 539.2L480.7 539.2L481.2 539.1L481.7 539.1L482.2 539.1L482.7 539.1L483.2 539.1L483.7 539.0L484.2 539.0L484.7 539.0L485.2 538.9L485.7 538.9L486.2 538.9L486.7 538.8L487.2 538.8L487.7 538.8L488.2 538.7L488.7 538.7L489.2 538.6L489.7 538.6L490.2 538.6L490.7 538.5L491.2 538.5L491.7 538.4L492.2 538.4L492.7 538.3L493.2 538.3L493.7 538.2L494.2 538.2L494.7 538.1L495.2 538.1L495.7 538.0L496.2 538.0L496.7 537.9L497.2 537.9L497.7 537.8L498.2 537.8L498.7 537.7L499.2 537.7L499.7 537.6L500.2 537.6L500.7 537.5L501.2 537.5L501.7 537.4L502.2 537.3L502.7 537.3L503.2 537.2L503.7 537.1L504.2 537.1L504.7 537.0L505.2 536.9L505.7 536.9L506.2 536.8L506.7 536.7L507.2 536.6L507.7 536.6L508.2 536.5L508.7 536.4L509.2 536.3L509.7 536.2L510.2 536.1L510.7 536.1L511.2 536.0L511.7 535.9L512.2 535.8L512.7 535.7L513.2 535.6L513.7 535.5L514.2 535.4L514.7 535.3L515.2 535.2L515.7 535.1L516.2 535.0L516.7 534.9L517.2 534.7L517.7 534.6L518.2 534.5L518.7 534.4L519.2 534.3L519.7 534.1L520.2 534.0L520.7 533.9L521.2 533.7L521.7 533.6L522.2 533.5L522.7 533.3L523.2 533.2L523.7 533.1L524.2 532.9L524.7 532.8L525.2 532.6L525.7 532.5L526.2 532.3L526.7 532.2L527.2 532.0L527.7 531.8L528.2 531.7L528.7 531.5L529.2 531.3L529.7 531.2L530.2 531.0L530.7 530.8L531.2 530.6L531.7 530.5L532.2 530.3L532.7 530.1L533.2 529.9L533.7 529.7L534.2 529.5L534.7 529.3L535.2 529.1L535.7 528.9L536.2 528.7L536.7 528.5L537.2 528.3L537.7 528.1L538.2 527.9L538.7 527.7L539.2 527.4L539.7 527.2L540.2 527.0L540.7 526.7L541.2 526.5L541.7 526.3L542.2 526.0L542.7 525.8L543.2 525.5L543.7 525.3L544.2 525.0L544.7 524.8L545.2 524.5L545.7 524.2L546.2 523.9L546.7 523.7L547.2 523.4L547.7 523.1L548.2 522.8L548.7 522.5L549.2 522.2L549.7 521.8L550.2 521.5L550.7 521.2L551.2 520.8L551.7 520.5L552.2 520.1L552.7 519.8L553.2 519.4L553.7 519.0L554.2 518.7L554.7 518.3L555.2 517.9L555.7 517.5L556.2 517.0L556.7 516.6L557.2 516.2L557.7 515.7L558.2 515.3L558.7 514.8L559.2 514.3L559.7 513.8L560.2 513.3L560.7 512.8L561.2 512.3L561.7 511.7L562.2 511.1L562.7 510.5L563.2 509.9L563.7 509.2L564.2 508.6L564.7 507.9L565.2 507.2L565.7 506.5L566.2 505.8L566.7 505.0L567.2 504.3L567.7 503.6L568.2 502.8L568.7 502.1L569.2 501.3L569.7 500.6L570.2 499.8L570.7 499.0L571.2 498.3L571.7 497.5L572.2 496.7L572.7 495.8L573.2 495.0L573.7 494.1L574.2 493.2L574.7 492.3L575.2 491.4L575.7 490.4L576.2 489.4L576.7 488.3L577.2 487.3L577.7 486.2L578.2 485.0L578.7 483.8L579.2 482.6L579.7 481.4L580.2 480.2L580.7 478.9L581.2 477.7L581.7 476.4L582.2 475.2L582.7 473.9L583.2 472.6L583.7 471.3L584.2 470.0L584.7 468.7L585.2 467.5L585.7 466.2L586.2 464.9L586.7 463.6L587.2 462.3L587.7 461.1L588.2 459.8L588.7 458.6L589.2 457.4L589.7 456.1L590.2 454.9L590.7 453.7L591.2 452.5L591.7 451.3L592.2 450.1L592.7 448.9L593.2 447.7L593.7 446.6L594.2 445.4L594.7 444.3L595.2 443.1L595.7 442.0L596.2 440.9L596.7 439.8L597.2 438.7L597.7 437.7L598.2 436.6L598.7 435.6L599.2 434.6L599.7 433.6L600.2 432.6L600.7 431.6L601.2 430.6L601.7 429.7L602.2 428.8L602.7 427.9L603.2 427.0L603.7 426.2L604.2 425.5L604.7 424.8L605.2 424.1L605.7 423.5L606.2 423.0L606.7 422.4L607.2 422.0L607.7 421.6L608.2 421.2L608.7 420.8L609.2 420.5L609.7 420.2L610.2 420.0L610.7 419.8L611.2 419.6L611.7 419.5L612.2 419.4L612.7 419.4L613.2 419.4L613.7 419.4L614.2 419.5L614.7 419.7L615.2 419.9L615.7 420.1L616.2 420.3L616.7 420.7L617.2 421.0L617.7 421.4L618.2 421.8L618.7 422.3L619.2 422.9L619.7 423.5L620.2 424.1L620.7 424.8L621.2 425.5L621.7 426.3L622.2 427.1L622.7 427.9L623.2 428.8L623.7 429.7L624.2 430.6L624.7 431.6L625.2 432.6L625.7 433.6L626.2 434.6L626.7 435.6L627.2 436.6L627.7 437.7L628.2 438.8L628.7 439.9L629.2 441.0L629.7 442.1L630.2 443.3L630.7 444.4L631.2 445.6L631.7 446.8L632.2 448.0L632.7 449.2L633.2 450.5L633.7 451.7L634.2 453.0L634.7 454.3L635.2 455.6L635.7 456.9L636.2 458.2L636.7 459.5L637.2 460.9L637.7 462.2L638.2 463.6L638.7 464.9L639.2 466.3L639.7 467.6L640.2 469.0L640.7 470.4L641.2 471.7L641.7 473.1L642.2 474.4L642.7 475.7L643.2 477.0L643.7 478.3L644.2 479.6L644.7 480.8L645.2 482.0L645.7 483.2L646.2 484.4L646.7 485.5L647.2 486.6L647.7 487.7L648.2 488.8L648.7 489.9L649.2 490.9L649.7 491.9L650.2 492.9L650.7 493.9L651.2 494.8L651.7 495.8L652.2 496.7L652.7 497.6L653.2 498.4L653.7 499.3L654.2 500.1L654.7 500.9L655.2 501.7L655.7 502.5L656.2 503.2L656.7 504.0L657.2 504.7L657.7 505.4L658.2 506.1L658.7 506.7L659.2 507.4L659.7 508.1L660.2 508.7L660.7 509.3L661.2 509.9L661.7 510.5L662.2 511.1L662.7 511.7L663.2 512.3L663.7 512.8L664.2 513.4L664.7 513.9L665.2 514.4L665.7 514.9L666.2 515.5L666.7 516.0L667.2 516.5L667.7 517.0L668.2 517.5L668.7 518.0L669.2 518.5L669.7 518.9L670.2 519.4L670.7 519.9L671.2 520.3L671.7 520.8L672.2 521.2L672.7 521.7L673.2 522.1L673.7 522.5L674.2 522.9L674.7 523.3L675.2 523.7L675.7 524.1L676.2 524.5L676.7 524.8L677.2 525.2L677.7 525.5L678.2 525.8L678.7 526.1L679.2 526.4L679.7 526.7L680.2 527.0L680.7 527.3L681.2 527.6L681.7 527.9L682.2 528.2L682.7 528.4L683.2 528.7L683.7 529.0L684.2 529.2L684.7 529.5L685.2 529.7L685.7 530.0L686.2 530.2L686.7 530.5L687.2 530.7L687.7 530.9L688.2 531.1L688.7 531.4L689.2 531.6L689.7 531.8L690.2 532.0L690.7 532.2L691.2 532.4L691.7 532.6L692.2 532.8L692.7 533.0L693.2 533.1L693.7 533.3L694.2 533.5L694.7 533.6L695.2 533.8L695.7 533.9L696.2 534.1L696.7 534.2L697.2 534.3L697.7 534.5L698.2 534.6L698.7 534.7L699.2 534.8L699.7 535.0L700.2 535.1L700.7 535.2L701.2 535.3L701.7 535.4L702.2 535.6L702.7 535.7L703.2 535.8L703.7 535.9L704.2 536.0L704.7 536.1L705.2 536.2L705.7 536.3L706.2 536.4L706.7 536.5L707.2 536.6L707.7 536.7L708.2 536.8L708.7 536.9L709.2 537.0L709.7 537.1L710.2 537.1L710.7 537.2L711.2 537.3L711.7 537.4L712.2 537.5L712.7 537.5L713.2 537.6L713.7 537.7L714.2 537.8L714.7 537.8L715.2 537.9L715.7 537.9L716.2 538.0L716.7 538.1L717.2 538.1L717.7 538.2L718.2 538.2L718.7 538.3L719.2 538.3L719.7 538.4L720.2 538.4L720.7 538.5L721.2 538.5L721.7 538.5L722.2 538.6L722.7 538.6L723.2 538.7L723.7 538.7L724.2 538.7L724.7 538.8L725.2 538.8L725.7 538.9L726.2 538.9L726.7 538.9L727.2 539.0L727.7 539.0L728.2 539.0L728.7 539.1L729.2 539.1L729.7 539.1L730.2 539.1L730.7 539.2L731.2 539.2L731.7 539.2L732.2 539.2L732.7 539.2L733.2 539.2L733.7 539.3L734.2 539.3L734.7 539.3L735.2 539.3L735.7 539.3L736.2 539.3L736.7 539.3L737.2 539.3L737.7 539.3L738.2 539.3L738.7 539.3L739.2 539.3L739.7 539.3L740.2 539.3L740.7 539.3L741.2 539.3L741.7 539.3L742.2 539.3L742.7 539.3L743.2 539.3L743.7 539.3L744.2 539.3L744.7 539.3L745.2 539.3L745.7 539.3L746.2 539.3L746.7 539.3L747.2 539.3L747.7 539.3L748.2 539.3L748.7 539.3L749.2 539.3L749.7 539.3L750.2 539.3L750.7 539.3L751.2 539.3L751.7 539.3L752.2 539.3L752.7 539.3L753.2 539.3L753.7 539.3L754.2 539.3L754.7 539.3L755.2 539.3L755.7 539.4L756.2 539.4L756.7 539.4L757.2 539.4L757.7 539.5L758.2 539.5L758.7 539.6L759.2 539.6L759.7 539.7L760.2 539.7L760.7 539.8L761.2 539.8L761.7 539.9L762.2 540.0L762.7 540.0L763.2 540.1L763.7 540.2L764.2 540.3L764.7 540.3L765.2 540.4L765.7 540.5L766.2 540.6L766.7 540.7L767.2 540.7L767.7 540.8L768.2 540.9L768.7 541.0L769.2 541.1L769.7 541.1L770.2 541.2L770.7 541.3L771.2 541.4L771.7 541.5L772.2 541.5L772.7 541.6L773.2 541.7L773.7 541.8L774.2 541.8L774.7 541.9L775.2 542.0L775.7 542.1L776.2 542.1L776.7 542.2L777.2 542.3L777.7 542.4L778.2 542.5L778.7 542.5L779.2 542.6L779.7 542.7L780.2 542.8L780.7 542.9L781.2 543.0L781.7 543.1L782.2 543.1L782.7 543.2L783.2 543.3L783.7 543.4L784.2 543.5L784.7 543.6L785.2 543.7L785.7 543.8L786.2 543.9L786.7 543.9L787.2 544.0L787.7 544.1L788.2 544.2L788.7 544.3L789.2 544.4L789.7 544.5L790.2 544.6L790.7 544.7L791.2 544.8L791.7 544.9L792.2 545.0L792.7 545.1L793.2 545.2L793.7 545.3L794.2 545.4L794.7 545.5L795.2 545.6L795.7 545.7L796.2 545.8L796.7 545.9L797.2 546.0L797.7 546.1L798.2 546.3L798.7 546.4"/>
  </g>

  <!-- XPS data (blue) -->
  <path d="M106.8 529.6L108.1 531.8L109.4 530.9L110.7 526.8L112.0 526.7L113.3 525.8L114.6 527.7L115.9 525.9L117.2 527.1L118.5 521.3L119.8 528.1L121.1 524.3L122.4 525.7L123.7 523.9L125.0 523.4L126.3 525.2L127.6 525.9L128.9 523.8L130.2 523.9L131.5 525.6L132.8 522.4L134.1 521.0L135.4 525.0L136.7 522.8L138.0 520.2L139.3 522.6L140.6 523.5L141.9 522.2L143.2 521.9L144.5 525.3L145.8 527.2L147.1 524.7L148.4 523.2L149.7 525.0L151.0 525.0L152.3 522.2L153.6 523.4L154.9 523.9L156.2 520.7L157.5 518.8L158.8 520.7L160.1 520.0L161.4 521.3L162.7 515.9L164.0 516.9L165.3 516.1L166.6 513.8L167.9 517.2L169.2 517.4L170.5 514.1L171.8 517.9L173.1 516.1L174.4 515.0L175.7 514.0L177.0 514.6L178.3 509.3L179.6 512.8L180.9 512.2L182.2 506.6L183.5 510.3L184.8 508.3L186.1 509.7L187.4 506.2L188.7 506.1L190.0 505.7L191.3 501.8L192.6 503.4L193.9 500.3L195.2 499.7L196.5 495.7L197.8 497.2L199.1 494.2L200.4 490.5L201.7 490.0L203.0 489.1L204.3 487.8L205.6 478.2L206.9 480.7L208.2 476.9L209.5 472.7L210.8 467.5L212.1 468.5L213.4 459.1L214.7 458.5L216.0 455.3L217.3 444.3L218.6 441.9L219.9 434.1L221.2 431.3L222.5 427.5L223.8 421.1L225.1 405.0L226.4 399.5L227.7 395.0L229.0 390.1L230.3 381.2L231.6 372.4L232.9 368.2L234.2 361.0L235.5 354.3L236.8 347.5L238.1 344.5L239.4 339.2L240.7 334.0L242.0 330.3L243.3 325.2L244.6 324.5L245.9 326.7L247.2 322.8L248.5 319.4L249.8 324.8L251.1 323.3L252.4 327.6L253.7 324.7L255.0 326.2L256.3 328.8L257.6 339.7L258.9 348.6L260.2 347.8L261.5 354.4L262.8 363.4L264.1 366.8L265.4 374.5L266.7 381.4L268.0 389.7L269.3 397.9L270.6 400.5L271.9 406.5L273.2 408.2L274.5 414.5L275.8 414.2L277.1 420.5L278.4 430.0L279.7 431.8L281.0 439.1L282.3 443.8L283.6 450.1L284.9 453.5L286.2 458.0L287.5 459.5L288.8 462.0L290.1 465.4L291.4 469.4L292.7 471.4L294.0 476.0L295.3 480.1L296.6 483.7L297.9 485.0L299.2 484.1L300.5 490.1L301.8 492.7L303.1 496.3L304.4 496.9L305.7 495.7L307.0 496.9L308.3 503.9L309.6 502.4L310.9 505.8L312.2 507.7L313.5 502.7L314.8 506.3L316.1 507.6L317.4 508.7L318.7 509.6L320.0 509.6L321.3 510.3L322.6 507.5L323.9 511.0L325.2 510.4L326.5 512.7L327.8 512.0L329.1 514.7L330.4 515.5L331.7 514.8L333.0 515.2L334.3 515.0L335.6 514.2L336.9 515.1L338.2 514.7L339.5 516.8L340.8 516.3L342.1 517.8L343.4 514.1L344.7 519.1L346.0 515.9L347.3 516.2L348.6 517.6L349.9 517.0L351.2 518.9L352.5 517.1L353.8 516.0L355.1 516.2L356.4 520.5L357.7 517.5L359.0 514.6L360.3 516.7L361.6 513.2L362.9 520.0L364.2 512.9L365.5 516.9L366.8 516.9L368.1 512.5L369.4 516.1L370.7 517.3L372.0 516.0L373.3 515.4L374.6 516.5L375.9 514.6L377.2 514.7L378.5 513.4L379.8 514.7L381.1 511.1L382.4 514.5L383.7 511.6L385.0 510.1L386.3 513.0L387.6 515.7L388.9 514.0L390.2 510.9L391.5 513.6L392.8 511.5L394.1 512.6L395.4 513.6L396.7 509.0L398.0 514.8L399.3 512.9L400.6 514.4L401.9 513.5L403.2 514.0L404.5 515.7L405.8 519.8L407.1 521.8L408.4 518.5L409.7 521.1L411.0 518.5L412.3 515.2L413.6 519.7L414.9 520.5L416.2 518.8L417.5 520.5L418.8 521.3L420.1 518.4L421.4 517.3L422.7 520.0L424.0 520.2L425.3 520.1L426.6 523.1L427.9 524.9L429.2 520.6L430.5 523.2L431.8 523.9L433.1 523.7L434.4 524.6L435.7 521.9L437.0 524.4L438.3 527.3L439.6 524.9L440.9 522.0L442.2 524.7L443.5 526.0L444.8 524.1L446.1 522.1L447.4 526.4L448.7 520.5L450.0 524.0L451.3 522.8L452.6 520.1L453.9 525.0L455.2 523.0L456.5 519.6L457.8 523.2L459.1 520.8L460.4 517.6L461.7 519.9L463.0 521.8L464.3 522.4L465.6 521.2L466.9 520.8L468.2 521.5L469.5 519.9L470.8 522.6L472.1 520.2L473.4 520.3L474.7 520.7L476.0 517.1L477.3 517.6L478.6 522.1L479.9 519.4L481.2 517.8L482.5 518.9L483.8 517.0L485.1 518.3L486.4 516.1L487.7 517.8L489.0 513.7L490.3 519.5L491.6 515.4L492.9 512.9L494.2 515.4L495.5 514.8L496.8 515.6L498.1 512.5L499.4 515.4L500.7 521.8L502.0 511.1L503.3 514.1L504.6 512.4L505.9 513.0L507.2 508.4L508.5 509.3L509.8 512.2L511.1 510.7L512.4 513.8L513.7 508.4L515.0 509.8L516.3 515.0L517.6 506.8L518.9 506.0L520.2 507.3L521.5 506.8L522.8 508.2L524.1 506.2L525.4 504.0L526.7 505.6L528.0 510.3L529.3 507.1L530.6 498.2L531.9 503.4L533.2 501.5L534.5 504.3L535.8 502.3L537.1 506.4L538.4 504.0L539.7 503.6L541.0 501.8L542.3 501.1L543.6 501.6L544.9 503.2L546.2 501.3L547.5 499.0L548.8 501.9L550.1 499.0L551.4 497.7L552.7 495.3L554.0 494.8L555.3 493.7L556.6 488.3L557.9 495.3L559.2 493.3L560.5 490.5L561.8 491.9L563.1 489.3L564.4 487.8L565.7 480.3L567.0 483.4L568.3 483.3L569.6 483.7L570.9 482.2L572.2 479.3L573.5 471.6L574.8 466.9L576.1 470.1L577.4 466.2L578.7 465.2L580.0 460.0L581.3 457.8L582.6 451.2L583.9 452.2L585.2 447.1L586.5 445.6L587.8 442.6L589.1 438.1L590.4 435.7L591.7 431.7L593.0 430.1L594.3 426.1L595.6 420.3L596.9 416.6L598.2 418.0L599.5 410.8L600.8 410.2L602.1 406.5L603.4 402.2L604.7 399.7L606.0 400.1L607.3 399.6L608.6 399.8L609.9 395.4L611.2 396.6L612.5 397.7L613.8 401.9L615.1 394.4L616.4 401.3L617.7 400.7L619.0 405.0L620.3 405.9L621.6 410.9L622.9 416.8L624.2 417.5L625.5 420.9L626.8 424.3L628.1 425.6L629.4 432.2L630.7 434.5L632.0 437.0L633.3 442.3L634.6 445.3L635.9 450.4L637.2 451.4L638.5 453.1L639.8 459.7L641.1 461.2L642.4 464.1L643.7 464.9L645.0 465.4L646.3 466.8L647.6 468.9L648.9 473.2L650.2 473.2L651.5 471.4L652.8 476.0L654.1 474.5L655.4 479.3L656.7 477.7L658.0 478.9L659.3 483.0L660.6 483.8L661.9 481.7L663.2 487.9L664.5 492.0L665.8 485.4L667.1 493.4L668.4 489.1L669.7 490.4L671.0 492.0L672.3 490.2L673.6 496.7L674.9 495.8L676.2 494.0L677.5 495.7L678.8 493.9L680.1 497.0L681.4 500.3L682.7 495.3L684.0 498.5L685.3 500.2L686.6 502.5L687.9 503.5L689.2 500.0L690.5 499.8L691.8 502.6L693.1 501.2L694.4 501.6L695.7 504.8L697.0 506.4L698.3 503.6L699.6 502.9L700.9 504.8L702.2 499.8L703.5 503.9L704.8 501.9L706.1 509.3L707.4 506.0L708.7 504.9L710.0 504.3L711.3 499.6L712.6 506.5L713.9 508.5L715.2 503.6L716.5 506.7L717.8 506.8L719.1 502.2L720.4 507.4L721.7 508.4L723.0 506.1L724.3 505.5L725.6 507.4L726.9 502.6L728.2 506.1L729.5 508.1L730.8 503.4L732.1 508.2L733.4 505.3L734.7 501.9L736.0 506.1L737.3 504.4L738.6 507.2L739.9 504.1L741.2 508.9L742.5 505.3L743.8 507.7L745.1 505.9L746.4 506.6L747.7 510.0L749.0 508.2L750.3 507.1L751.6 505.6L752.9 510.9L754.2 510.3L755.5 508.3L756.8 509.8L758.1 507.5L759.4 507.8L760.7 508.5L762.0 511.3L763.3 511.5L764.6 509.6L765.9 513.0L767.2 513.4L768.5 512.5L769.8 514.7L771.1 512.3L772.4 513.0L773.7 514.7L775.0 514.0L776.3 516.2L777.6 512.3L778.9 518.3L780.2 514.1L781.5 515.8L782.8 513.6L784.1 518.1L785.4 519.9L786.7 519.8L788.0 519.5L789.3 514.8L790.6 516.6L791.9 517.5L793.2 516.8L794.5 521.3L795.8 519.6L797.1 519.4L798.4 520.6L799.7 517.8L801.0 518.1L802.3 518.4L803.6 521.5L804.9 521.3L806.2 522.0L807.5 523.2L808.8 518.3L810.1 520.1L811.4 521.7L812.7 518.7L814.0 520.5L815.3 523.9L816.6 524.2L817.9 524.2L819.2 522.1" fill="none" stroke="#0a3cff" stroke-width="2.0" stroke-linejoin="round" stroke-linecap="round"/>

  <!-- EELS data (black) -->
  <path d="M72.4 278.0L74.2 278.3L76.0 275.6L77.8 272.9L79.6 274.0L81.4 271.7L83.2 275.3L85.0 279.8L86.8 273.3L88.6 273.1L90.4 277.3L92.2 277.1L94.0 285.4L95.8 272.5L97.6 274.4L99.4 274.9L101.2 265.4L103.0 267.1L104.8 261.7L106.6 264.5L108.4 263.3L110.2 269.8L112.0 266.4L113.8 271.6L115.6 270.3L117.4 268.1L119.2 259.0L121.0 266.1L122.8 268.3L124.6 269.5L126.4 264.3L128.2 268.6L130.0 267.0L131.8 267.1L133.6 272.7L134.6 265.4L135.6 267.3L136.6 269.8L137.6 264.1L138.6 265.4L139.6 265.8L140.6 265.3L141.6 260.6L142.6 264.8L143.6 269.0L144.6 258.6L145.6 266.7L146.6 263.7L147.6 260.6L148.6 269.4L149.6 264.5L150.6 257.1L151.6 261.1L152.6 262.3L153.6 259.1L154.6 261.6L155.6 258.4L156.6 260.4L157.6 262.5L158.6 254.5L159.6 257.0L160.6 254.0L161.6 255.4L162.6 250.2L163.6 251.7L164.6 252.3L165.6 255.4L166.6 255.6L167.6 246.1L168.6 247.2L169.6 251.5L170.6 241.4L171.6 245.9L172.6 246.3L173.6 250.1L174.6 247.1L175.6 242.5L176.6 241.3L177.6 240.6L178.6 245.6L179.6 237.6L180.6 236.7L181.6 237.7L182.6 234.5L183.6 232.5L184.6 227.3L185.6 229.0L186.6 224.5L187.6 225.4L188.6 218.3L189.6 211.3L190.6 210.2L191.6 203.6L192.6 205.6L193.6 199.1L194.6 198.0L195.6 188.1L196.6 190.3L197.6 179.5L198.6 174.6L199.6 177.1L200.6 171.7L201.6 172.2L202.6 176.4L203.6 162.7L204.6 160.5L205.6 160.4L206.6 158.5L207.6 153.2L208.6 150.1L209.6 150.4L210.6 146.7L211.6 138.0L212.6 138.1L213.6 135.6L214.6 129.5L215.6 132.3L216.6 126.7L217.6 131.6L218.6 127.2L219.6 125.1L220.6 120.9L221.6 120.8L222.6 112.3L223.6 113.4L224.6 116.7L225.6 105.9L226.6 114.2L227.6 102.9L228.6 109.1L229.6 100.7L230.6 103.3L231.6 97.7L232.6 88.7L233.6 95.2L234.6 92.6L235.6 84.2L236.6 80.4L237.6 77.8L238.6 72.3L239.6 77.5L240.6 69.9L241.6 65.5L242.6 67.7L243.6 68.3L244.6 66.0L245.6 75.6L246.6 72.3L247.6 78.2L248.6 77.5L249.6 78.3L250.6 83.4L251.6 87.0L252.6 94.3L253.6 98.5L254.6 104.1L255.6 105.4L256.6 112.5L257.6 126.6L258.6 124.5L259.6 130.1L260.6 142.1L261.6 152.3L262.6 148.1L263.6 157.9L264.6 161.6L265.6 162.7L266.6 176.3L267.6 178.3L268.6 183.2L269.6 185.0L270.6 193.7L271.6 194.8L272.6 200.9L273.6 202.8L274.6 207.3L275.6 219.5L276.6 215.6L277.6 220.5L278.6 221.2L279.6 221.4L280.6 222.6L281.6 227.9L282.6 225.9L283.6 228.0L284.6 230.6L285.6 236.9L286.6 237.4L287.6 238.4L288.6 236.5L289.6 234.2L290.6 242.6L291.6 242.8L292.6 239.1L293.6 241.6L294.6 242.5L295.6 242.8L296.6 243.3L297.6 238.7L298.6 245.7L299.6 236.2L300.6 243.8L301.6 242.8L302.6 244.6L303.6 248.7L304.6 257.6L306.4 253.4L308.2 251.5L310.0 262.6L311.8 254.9L313.6 259.4L315.4 263.1L317.2 252.6L319.0 250.8L320.8 261.3L322.6 260.7L324.4 260.0L326.2 261.7L328.0 258.4L329.8 256.1L331.6 262.4L333.4 259.4L335.2 256.9L337.0 266.5L338.8 264.2L340.6 266.2L342.4 260.1L344.2 261.3L346.0 259.6L347.8 259.7L349.6 263.9L351.4 259.3L353.2 263.8L355.0 263.4L356.8 270.4L358.6 255.6L360.4 265.3L362.2 261.3L364.0 262.1L365.8 256.4L367.6 261.3L369.4 267.1L371.2 264.1L373.0 265.2L374.8 263.7L376.6 269.7L378.4 263.8L380.2 253.2L382.0 258.4L383.8 251.6L385.6 245.2L387.4 256.2L389.2 263.6L391.0 257.5L392.8 251.7L394.6 252.3L396.4 260.9L398.2 256.7L400.0 256.6L401.8 257.0L403.6 258.5L405.4 263.0L407.2 263.1L409.0 262.6L410.8 257.7L412.6 264.8L414.4 259.9L416.2 267.9L418.0 258.0L419.8 263.3L421.6 264.7L423.4 260.2L425.2 274.7L427.0 274.9L428.8 267.6L430.6 273.4L432.4 272.0L434.2 259.3L436.0 271.8L437.8 270.6L439.6 271.3L441.4 266.5L443.2 270.1L445.0 270.7L446.8 277.0L448.6 274.0L450.4 273.2L452.2 280.5L454.0 272.2L455.8 273.2L457.6 267.2L459.4 281.7L461.2 279.1L463.0 278.8L464.8 277.6L466.6 275.1L468.4 275.4L470.2 273.3L472.0 273.4L473.8 274.4L475.6 280.6L477.4 276.4L479.2 273.8L481.0 271.5L482.8 271.3L484.6 280.9L486.4 276.2L488.2 274.3L490.0 272.5L491.8 269.2L493.6 273.7L495.4 277.8L497.2 271.8L499.0 271.2L500.8 269.5L502.6 278.4L504.4 262.0L505.7 267.1L506.9 264.8L508.2 271.6L509.4 265.5L510.7 270.8L511.9 274.6L513.2 267.7L514.4 266.7L515.7 269.7L516.9 268.8L518.2 264.6L519.4 269.6L520.7 274.9L521.9 265.6L523.2 265.0L524.4 261.1L525.7 265.5L526.9 258.8L528.2 258.7L529.4 267.2L530.7 258.4L531.9 265.4L533.2 266.6L534.4 261.3L535.7 261.9L536.9 266.7L538.2 258.1L539.4 256.1L540.7 252.7L541.9 257.5L543.2 262.4L544.4 259.8L545.7 252.0L546.9 251.6L548.2 252.2L549.4 254.5L550.7 251.9L551.9 252.8L553.2 252.4L554.4 249.5L555.7 249.8L556.9 250.2L558.2 248.6L559.4 250.5L560.7 255.4L561.9 250.3L563.2 248.1L564.4 241.3L565.7 249.0L566.9 239.8L568.2 241.4L569.4 249.4L570.7 247.9L571.9 240.7L572.9 233.6L573.9 237.1L574.9 235.0L575.9 238.7L576.9 243.5L577.9 235.2L578.9 230.3L579.9 227.2L580.9 229.3L581.9 227.0L582.9 221.5L583.9 223.8L584.9 217.2L585.9 223.0L586.9 220.7L587.9 218.7L588.9 211.2L589.9 212.5L590.9 208.1L591.9 204.9L592.9 202.9L593.9 197.4L594.9 194.8L595.9 200.8L596.9 195.6L597.9 195.6L598.9 197.1L599.9 186.4L600.9 188.7L601.9 191.2L602.9 191.2L603.9 187.8L604.9 192.2L605.9 181.3L606.9 184.8L607.9 186.6L608.9 193.7L609.9 193.7L610.9 186.9L611.9 200.1L612.9 199.5L613.9 204.3L614.9 200.5L615.9 203.0L616.9 202.2L617.9 217.2L618.9 210.0L619.9 218.6L620.9 213.3L621.9 218.6L622.9 214.6L623.9 221.4L624.9 228.2L625.9 222.2L626.9 231.8L627.9 230.5L628.9 226.8L629.9 229.8L630.9 230.9L631.9 233.2L632.9 232.4L633.9 232.3L634.9 235.0L635.9 233.4L636.9 233.5L637.9 239.0L638.9 243.4L639.9 236.2L640.9 242.8L641.9 241.7L642.9 241.5L643.9 248.8L644.9 244.7L645.9 252.2L646.9 244.5L647.9 248.8L648.9 246.8L649.9 245.1L650.9 250.3L652.7 247.3L654.5 250.9L656.3 248.5L658.1 244.7L659.9 249.8L661.7 251.4L663.5 256.3L665.3 249.3L667.1 254.0L668.9 247.7L670.7 259.0L672.5 252.6L674.3 250.5L676.1 258.9L677.9 264.7L679.7 254.2L681.5 256.8L683.3 259.1L685.1 258.2L686.9 265.4L688.7 260.9L690.5 261.9L692.3 267.9L694.1 262.5L695.9 267.8L697.7 261.8L699.5 260.7L701.3 257.9L703.1 273.5L704.9 263.9L706.7 266.0L708.5 264.5L710.3 264.9L712.1 264.1L713.9 271.7L715.7 258.7L717.5 256.1L719.3 258.2L721.1 256.6L722.9 265.3L724.7 265.6L726.5 257.9L728.3 256.0L730.1 260.5L731.9 268.1L733.7 250.1L735.5 264.5L737.3 257.7L739.1 267.0L740.9 258.0L742.7 261.6L744.5 256.5L746.3 258.9L748.1 269.3L749.9 267.0L751.7 262.0L753.5 260.2L755.3 256.0L757.1 262.7L758.9 264.5L760.7 264.5L762.5 264.7L764.3 260.6L766.1 265.6L767.9 266.3L769.7 272.6L771.5 275.8L773.3 267.9L775.1 265.9L776.9 269.6L778.7 267.8L780.5 267.8L782.3 271.2L784.1 267.3L785.9 274.6L787.7 271.6L789.5 273.3L791.3 271.5L793.1 269.2L794.9 285.4L796.7 271.5L798.5 270.2L800.3 273.7L802.1 272.7L803.9 266.9L805.7 273.1L807.5 267.1L809.3 270.3L811.1 271.7L812.9 264.0L814.7 273.4L816.5 273.6L818.3 272.3L819.0 271.2" fill="none" stroke="#000" stroke-width="2.1" stroke-linejoin="round" stroke-linecap="round"/>

  <!-- frame -->
  <rect x="69.6" y="8.8" width="751.7" height="572.3" fill="none" stroke="#000" stroke-width="1.7"/>
  <line x1="201.7" y1="581.1" x2="201.7" y2="596.5" stroke="#000" stroke-width="1.8"/><line x1="364.2" y1="581.1" x2="364.2" y2="596.5" stroke="#000" stroke-width="1.8"/><line x1="526.7" y1="581.1" x2="526.7" y2="596.5" stroke="#000" stroke-width="1.8"/><line x1="689.2" y1="581.1" x2="689.2" y2="596.5" stroke="#000" stroke-width="1.8"/>

  <text id="t460" x="185.49" y="625.1" font-size="22.3" textLength="33.53" lengthAdjust="spacingAndGlyphs" >460</text>
  <text id="t470" x="347.99" y="625.1" font-size="22.3" textLength="33.53" lengthAdjust="spacingAndGlyphs" >470</text>
  <text id="t480" x="510.49" y="625.1" font-size="22.3" textLength="33.53" lengthAdjust="spacingAndGlyphs" >480</text>
  <text id="t490" x="672.99" y="625.1" font-size="22.3" textLength="33.53" lengthAdjust="spacingAndGlyphs" >490</text>
  <text id="energy" x="391.21" y="654.4" font-size="22.3" textLength="108.32" lengthAdjust="spacingAndGlyphs" >Energy (eV)</text>
  <text id="eels" x="96.50" y="73.1" font-size="25.6" textLength="55.25" lengthAdjust="spacingAndGlyphs" class="b" font-style="italic">EELS</text>
  <text id="xps" x="96.23" y="387.1" font-size="25.6" textLength="43.27" lengthAdjust="spacingAndGlyphs" class="b" font-style="italic">XPS</text>
  <text id="ru3p" x="708.66" y="54.3" font-size="28.0" textLength="72.13" lengthAdjust="spacingAndGlyphs" >Ru 3p</text>
  <text id="3pa" x="250.95" y="54.95" font-size="22.3" textLength="22.60" lengthAdjust="spacingAndGlyphs" >3p</text>
  <text id="32a" x="273.23" y="61.0" font-size="14.5" textLength="20.56" lengthAdjust="spacingAndGlyphs" >3/2</text>
  <text id="3pb" x="619.46" y="175.05" font-size="22.3" textLength="22.85" lengthAdjust="spacingAndGlyphs" >3p</text>
  <text id="12b" x="642.42" y="180.8" font-size="14.5" textLength="19.87" lengthAdjust="spacingAndGlyphs" >1/2</text>
  <text id="x12" x="559.24" y="535.5" font-size="22.1" textLength="45.78" lengthAdjust="spacingAndGlyphs" style="fill:#ff0000;stroke:#ff0000">x 1.2</text>
  <text id="cf" x="367.74" y="37.0" font-size="17.3" textLength="86.53" lengthAdjust="spacingAndGlyphs" >crystal field</text>
  <text id="soc" x="520.99" y="39.6" font-size="17.6" textLength="32.54" lengthAdjust="spacingAndGlyphs" >SOC</text>
  <text id="e" x="346.20" y="73.2" font-size="17.0" textLength="7.37" lengthAdjust="spacingAndGlyphs" >e</text>
  <text id="g" x="353.21" y="75.9" font-size="11.0" textLength="6.64" lengthAdjust="spacingAndGlyphs" >g</text>
  <text id="t" x="343.99" y="119.8" font-size="15.6" textLength="4.79" lengthAdjust="spacingAndGlyphs" >t</text>
  <text id="2g" x="348.46" y="123.8" font-size="11.0" textLength="11.09" lengthAdjust="spacingAndGlyphs" >2g</text>
  <text id="d1" x="568.14" y="78.5" font-size="15.0" textLength="7.46" lengthAdjust="spacingAndGlyphs" >d</text>
  <text id="52" x="575.49" y="82.8" font-size="11.0" textLength="16.03" lengthAdjust="spacingAndGlyphs" >5/2</text>
  <text id="d2" x="567.15" y="122.5" font-size="15.0" textLength="7.71" lengthAdjust="spacingAndGlyphs" >d</text>
  <text id="32c" x="574.49" y="126.9" font-size="11.0" textLength="15.78" lengthAdjust="spacingAndGlyphs" >3/2</text>
  <text id="intensity" transform="translate(26.05 361.03) rotate(-90)" font-size="22.3" textLength="188.80" lengthAdjust="spacingAndGlyphs">Intensity (arb. units)</text>

  <!-- inset level diagram -->
  <line x1="373.9" y1="61.4" x2="434.3" y2="61.4" stroke="#000" stroke-width="1.8"/><line x1="373.9" y1="72.8" x2="434.3" y2="72.8" stroke="#000" stroke-width="1.8"/><line x1="373.9" y1="101.9" x2="434.3" y2="101.9" stroke="#000" stroke-width="1.8"/><line x1="373.9" y1="113.4" x2="434.3" y2="113.4" stroke="#000" stroke-width="1.8"/><line x1="373.9" y1="124.8" x2="434.3" y2="124.8" stroke="#000" stroke-width="1.8"/><line x1="504.1" y1="63.9" x2="565" y2="63.9" stroke="#000" stroke-width="1.8"/><line x1="504.1" y1="75.6" x2="565" y2="75.6" stroke="#000" stroke-width="1.8"/><line x1="504.1" y1="87.2" x2="565" y2="87.2" stroke="#000" stroke-width="1.8"/><line x1="504.1" y1="112.7" x2="565" y2="112.7" stroke="#000" stroke-width="1.8"/><line x1="504.1" y1="124.2" x2="565" y2="124.2" stroke="#000" stroke-width="1.8"/><path d="M373.3 57.5H363.1V75.3H373.3" fill="none" stroke="#000" stroke-width="1.7"/><path d="M373.3 96.7H363.1V130.8H373.3" fill="none" stroke="#000" stroke-width="1.7"/><circle cx="389.9" cy="101.9" r="5.4" fill="#000"/><circle cx="389.9" cy="113.4" r="5.4" fill="#000"/><circle cx="389.9" cy="124.8" r="5.4" fill="#000"/><circle cx="415.6" cy="113.4" r="5.4" fill="#000"/><circle cx="415.6" cy="124.8" r="5.4" fill="#000"/><circle cx="415.6" cy="101.9" r="4.4" fill="#fff" stroke="#000" stroke-width="1.5"/>
</svg>
</body>
</html>
